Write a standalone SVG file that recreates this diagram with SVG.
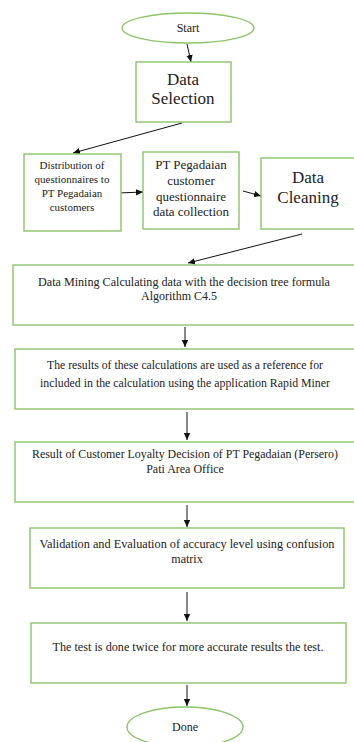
<svg xmlns="http://www.w3.org/2000/svg" width="354" height="742" viewBox="0 0 354 742">
<style>
.box{fill:#fff;stroke:#8cc46c;stroke-width:1.4}
.t{font-family:"Liberation Serif","Times New Roman",serif;fill:#222;text-anchor:middle}
.s12{font-size:12px}
.s11{font-size:11px}
.s13{font-size:13px}
.s17{font-size:17px}
.c{stroke:#111;stroke-width:1;fill:none;marker-end:url(#ah)}
</style>
<defs>
<marker id="ah" markerWidth="8" markerHeight="8" refX="7" refY="4" orient="auto" markerUnits="userSpaceOnUse">
<path d="M0,0.8 L7,4 L0,7.2 Z" fill="#111"/>
</marker>
</defs>
<rect width="354" height="742" fill="#fff"/>
<g id="connectors">
<line class="c" x1="187" y1="44" x2="191" y2="62"/>
<line class="c" x1="182" y1="123" x2="73" y2="153"/>
<line class="c" x1="118" y1="193" x2="143" y2="192"/>
<line class="c" x1="243" y1="191" x2="261" y2="196"/>
<line class="c" x1="302" y1="234" x2="188" y2="263"/>
<line class="c" x1="185" y1="327" x2="185" y2="347"/>
<line class="c" x1="187" y1="412" x2="187" y2="440"/>
<line class="c" x1="187" y1="505" x2="187" y2="527"/>
<line class="c" x1="187" y1="592" x2="187" y2="621"/>
<line class="c" x1="187" y1="685" x2="187" y2="706"/>
</g>
<g id="start">
<ellipse class="box" cx="188" cy="28" rx="66" ry="15"/>
<text class="t s12" x="188" y="32">Start</text>
</g>
<g id="data-selection">
<rect class="box" x="136" y="62" width="95" height="60"/>
<text class="t s17" x="183" y="85">Data</text>
<text class="t s17" x="183" y="104">Selection</text>
</g>
<g id="distribution">
<rect class="box" x="24" y="154" width="97" height="77"/>
<text class="t s11" x="72" y="169">Distribution of</text>
<text class="t s11" x="72" y="183">questionnaires to</text>
<text class="t s11" x="72" y="197">PT Pegadaian</text>
<text class="t s11" x="72" y="211">customers</text>
</g>
<g id="collection">
<rect class="box" x="143" y="152" width="96" height="77"/>
<text class="t s13" x="191" y="169">PT Pegadaian</text>
<text class="t s13" x="191" y="185">customer</text>
<text class="t s13" x="191" y="201">questionnaire</text>
<text class="t s13" x="191" y="216">data collection</text>
</g>
<g id="data-cleaning">
<rect class="box" x="261" y="158" width="100" height="71"/>
<text class="t s17" x="308" y="183">Data</text>
<text class="t s17" x="308" y="203">Cleaning</text>
</g>
<g id="data-mining">
<rect class="box" x="13" y="265" width="345" height="60"/>
<text class="t s12" x="184" y="286" textLength="292" lengthAdjust="spacingAndGlyphs">Data Mining Calculating data with the decision tree formula</text>
<text class="t s12" x="179" y="300">Algorithm C4.5</text>
</g>
<g id="results">
<rect class="box" x="15" y="349" width="345" height="60"/>
<text class="t s12" x="185" y="369" textLength="276" lengthAdjust="spacingAndGlyphs">The results of these calculations are used as a reference for</text>
<text class="t s12" x="185" y="387" textLength="290" lengthAdjust="spacingAndGlyphs">included in the calculation using the application Rapid Miner</text>
</g>
<g id="loyalty">
<rect class="box" x="15" y="442" width="345" height="60"/>
<text class="t s12" x="185" y="458" textLength="306" lengthAdjust="spacingAndGlyphs">Result of Customer Loyalty Decision of PT Pegadaian (Persero)</text>
<text class="t s12" x="185" y="473">Pati Area Office</text>
</g>
<g id="validation">
<rect class="box" x="30" y="528" width="314" height="60"/>
<text class="t s12" x="187" y="548" textLength="295" lengthAdjust="spacingAndGlyphs">Validation and Evaluation of accuracy level using confusion</text>
<text class="t s12" x="187" y="563">matrix</text>
</g>
<g id="test">
<rect class="box" x="31" y="623" width="315" height="60"/>
<text class="t s12" x="188" y="651" textLength="271" lengthAdjust="spacingAndGlyphs">The test is done twice for more accurate results the test.</text>
</g>
<g id="done">
<ellipse class="box" cx="185" cy="727" rx="58" ry="20"/>
<text class="t s12" x="185" y="731">Done</text>
</g>
</svg>
